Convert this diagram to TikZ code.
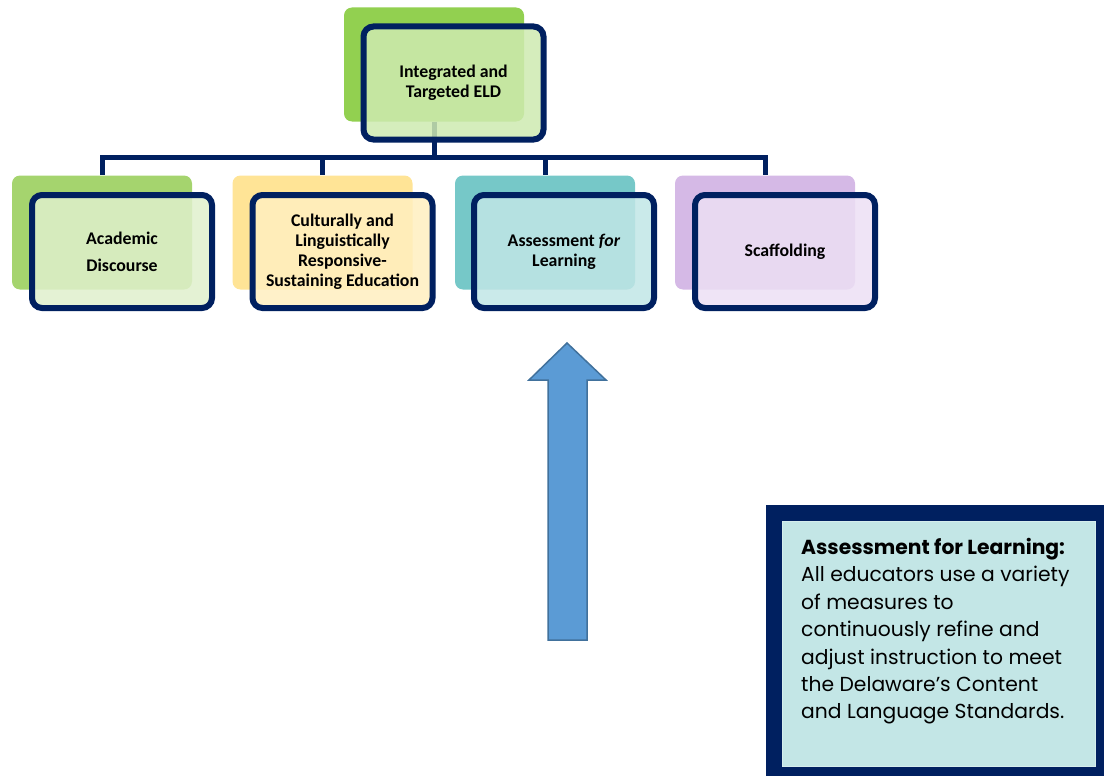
\documentclass[tikz,border=0pt]{standalone}
\usepackage{fontspec}
\setmainfont{Carlito}
\newfontfamily\notefont{Poppins}
\usetikzlibrary{positioning,calc}

\definecolor{navy}{RGB}{0,32,96}
\definecolor{topB}{RGB}{146,208,80}
\definecolor{acadB}{RGB}{165,212,110}
\definecolor{cultB}{RGB}{255,228,150}
\definecolor{assessB}{RGB}{118,200,200}
\definecolor{scafB}{RGB}{213,185,230}
\definecolor{arrowfill}{RGB}{91,155,213}
\definecolor{arrowedge}{RGB}{65,113,156}
\definecolor{notefill}{RGB}{195,230,230}

\tikzset{
  backbox/.style={rounded corners=8pt, minimum width=180pt, minimum height=114pt, inner sep=0pt},
  frontbox/.style={draw=navy, line width=6pt, rounded corners=10pt, minimum width=180pt,
    minimum height=113pt, fill opacity=0.85, text opacity=1, align=center,
    font=\bfseries\fontsize{17.8}{20}\selectfont},
  conn/.style={draw=navy, line width=5pt},
}

\begin{document}
\begin{tikzpicture}[x=1pt,y=-1pt]
  \useasboundingbox (0,0) rectangle (1104,776);

  % back boxes
  \node[backbox, fill=topB] (b0) at (434,64.5) {};
  \foreach \n/\x/\c in {b1/102/acadB, b2/322.5/cultB, b3/545/assessB, b4/765/scafB}{
    \node[backbox, fill=\c] (\n) at (\x,232.5) {};
  }

  % tree lines
  \coordinate (hbar) at (0,157);
  \draw[conn] (b0.south) -- (b0.south |- hbar);
  \foreach \n in {b1,b2,b3,b4}{
    \draw[conn] (b0.south |- hbar) -| (\n.north);
  }

  % front boxes
  \node[frontbox, fill=topB!45] (f0) at ($(b0)+(19.5,18.5)$) {Integrated and\\Targeted ELD};
  \node[frontbox, fill=acadB!35] (f1) at ($(b1)+(20,19)$) {Academic\\[7pt]Discourse};
  \node[frontbox, fill=cultB!60] (f2) at ($(b2)+(20,19)$)
    {Culturally and\\Linguistically\\Responsive-\\Sustaining Education};
  \node[frontbox, fill=assessB!45] (f3) at ($(b3)+(19,19)$) {Assessment \emph{for}\\Learning};
  \node[frontbox, fill=scafB!45] (f4) at ($(b4)+(20,19)$) {Scaffolding};

  % block arrow
  \filldraw[fill=arrowfill, draw=arrowedge, line width=1.5pt]
    (548,640) -- (548,380) -- (529,380) -- (567,343) -- (606,380) -- (587,380) -- (587,640) -- cycle;

  % note
  \fill[navy] (766,505) rectangle (1104,776);
  \filldraw[fill=notefill, draw=notefill!70!white, line width=0.8pt] (782,521) rectangle (1095,766);
  \node[anchor=north west, align=left, inner sep=0pt,
    font=\notefont\fontsize{20.3}{27.4}\selectfont] (note) at (801,538)
    {\textbf{Assessment for Learning:}\\
     All educators use a variety\\
     of measures to\\
     continuously refine and\\
     adjust instruction to meet\\
     the Delaware’s Content\\
     and Language Standards.};
\end{tikzpicture}
\end{document}
